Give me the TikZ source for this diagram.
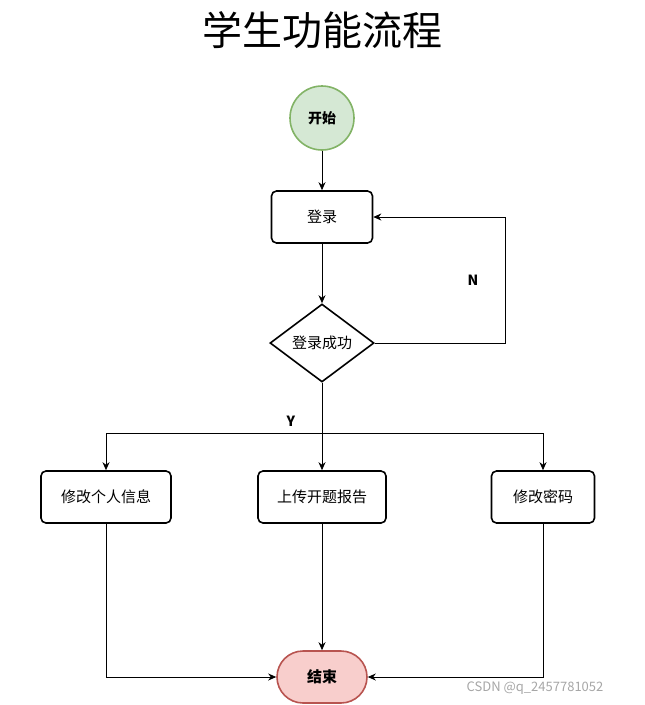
\documentclass[tikz,border=0pt]{standalone}
\usepackage{fontspec}
\setmainfont{Noto Sans CJK SC}
\usetikzlibrary{shapes.geometric,arrows.meta}
\begin{document}
\begin{tikzpicture}[x=1pt,y=-1pt,
  box/.style={draw,line width=1.6pt,rounded corners=5pt,minimum height=52pt,font=\fontsize{15}{18}\selectfont},
  arr/.style={-{Stealth[length=8pt,width=7pt]},line width=0.8pt},
  ln/.style={line width=0.8pt}]
\useasboundingbox (0,0) rectangle (645,705);
\node (title) at (322,30) {\fontsize{40}{46}\selectfont 学生功能流程};
\node (start) at (322,118) [circle,draw=green!50!black!60,fill={rgb,255:red,213;green,232;blue,212},line width=1.6pt,minimum size=64pt,font=\bfseries\fontsize{14}{16}\selectfont,draw={rgb,255:red,130;green,179;blue,102}] {开始};
\node (login) at (322,217) [box,minimum width=101pt] {登录};
\node (ok) at (322,343) [diamond,draw,line width=1.6pt,minimum width=104pt,minimum height=78pt,inner sep=0pt,aspect=1.33,font=\fontsize{15}{18}\selectfont] {登录成功};
\node (b1) at (106,497) [box,minimum width=130pt] {修改个人信息};
\node (b2) at (322,497) [box,minimum width=128pt] {上传开题报告};
\node (b3) at (543,497) [box,minimum width=103pt] {修改密码};
\node (end) at (322,677) [draw={rgb,255:red,184;green,84;blue,80},fill={rgb,255:red,248;green,206;blue,204},line width=1.6pt,rounded corners=26pt,minimum width=90pt,minimum height=52pt,font=\bfseries\fontsize{15}{18}\selectfont] {结束};
\node (N) at (473,280) {\bfseries\fontsize{14}{16}\selectfont N};
\node (Y) at (291,421) {\bfseries\fontsize{14}{16}\selectfont Y};
\node (wm) at (535,688) [text=gray!70,font=\fontsize{13}{15}\selectfont] {CSDN @q\_2457781052};
\coordinate (n1) at (505,343);
\coordinate (n2) at (505,217);
\coordinate (split) at (322,433);
\coordinate (l1) at (106,433);
\coordinate (r1) at (543,433);
\coordinate (l2) at (106,677);
\coordinate (r2) at (543,677);
\draw[arr] (start) -- (login);
\draw[arr] (login) -- (ok);
\draw[arr] (ok.east) -- (n1) -- (n2) -- (login.east);
\draw[arr] (ok.south) -- (b2.north);
\draw[arr] (split) -- (l1) -- (b1.north);
\draw[arr] (split) -- (r1) -- (b3.north);
\draw[arr] (b1.south) -- (l2) -- (end.west);
\draw[arr] (b2.south) -- (end.north);
\draw[arr] (b3.south) -- (r2) -- (end.east);
\end{tikzpicture}
\end{document}
